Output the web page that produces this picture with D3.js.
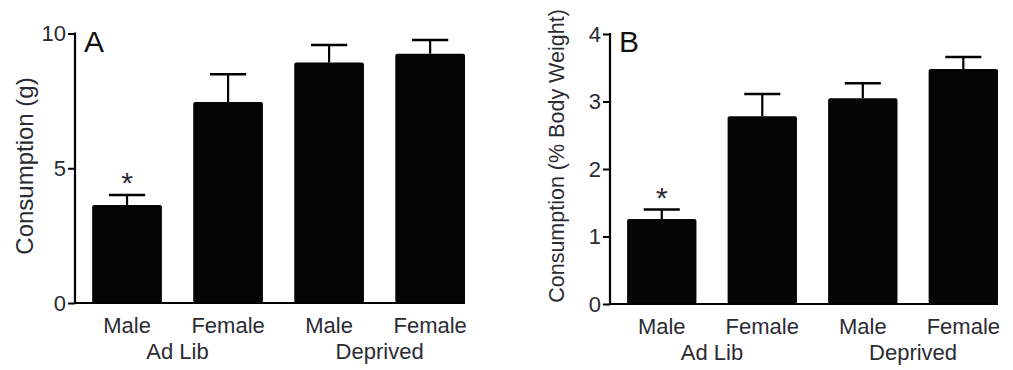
<!DOCTYPE html>
<html>
<head>
<meta charset="utf-8">
<script src="https://cdn.jsdelivr.net/npm/d3@7"></script>
<style>
    html, body { margin: 0; padding: 0; background: #fff; }
    svg { display: block; font-family: "Liberation Sans", Arial, sans-serif; }
</style>
</head>
<body>
<svg id="chart" width="1013" height="370"></svg>
<script>
// bar groups, left to right
const sexes = ["Male", "Female", "Male", "Female"];
const conditions = ["Ad Lib", "Deprived"];
const conditionOf = [0, 0, 1, 1];

// panel A: consumption in grams
const gramsMean = [3.64, 7.46, 8.92, 9.25];
const gramsSem = [0.37, 1.03, 0.65, 0.51];
const gramsTicks = [0, 5, 10];

// panel B: consumption as % body weight
const pctMean = [1.26, 2.78, 3.05, 3.48];
const pctSem = [0.14, 0.33, 0.22, 0.18];
const pctTicks = [0, 1, 2, 3, 4];

const significant = [true, false, false, false];

const textColor = "#2b2b33";
const svg = d3.select("#chart");

function drawPanel(opts) {
    const g = svg.append("g");
    const x = d3.scaleBand()
        .domain(d3.range(sexes.length))
        .range([opts.left, opts.right])
        .paddingInner(0.31)
        .paddingOuter(0.085)
        .align(1);
    const y = d3.scaleLinear()
        .domain([0, opts.max])
        .range([opts.bottom, opts.top]);

    // bars
    g.selectAll(".bar")
        .data(opts.mean)
        .join("rect")
        .attr("class", "bar")
        .attr("x", (d, i) => x(i))
        .attr("y", d => y(d))
        .attr("width", x.bandwidth())
        .attr("height", d => y(0) - y(d))
        .attr("rx", 2)
        .attr("fill", "#050505");

    // error bars (upper only)
    const capW = x.bandwidth() * 0.52;
    opts.mean.forEach((m, i) => {
        const cx = x(i) + x.bandwidth() / 2;
        g.append("line")
            .attr("x1", cx).attr("x2", cx)
            .attr("y1", y(m)).attr("y2", y(m + opts.sem[i]))
            .attr("stroke", "#000").attr("stroke-width", 2.2);
        g.append("line")
            .attr("x1", cx - capW / 2).attr("x2", cx + capW / 2)
            .attr("y1", y(m + opts.sem[i])).attr("y2", y(m + opts.sem[i]))
            .attr("stroke", "#000").attr("stroke-width", 2.5);
        if (significant[i]) {
            g.append("text")
                .attr("x", cx)
                .attr("y", y(m + opts.sem[i]) - 2)
                .attr("text-anchor", "middle")
                .attr("font-size", 30)
                .attr("fill", textColor)
                .text("*");
        }
    });

    // y axis
    g.append("g")
        .attr("transform", `translate(${opts.left},0)`)
        .call(d3.axisLeft(y).tickValues(opts.ticks).tickSize(7).tickPadding(2).tickFormat(d3.format("d")))
        .call(a => a.select(".domain").remove())
        .call(a => a.selectAll(".tick line").attr("stroke", "#000").attr("stroke-width", 2))
        .call(a => a.selectAll(".tick text").attr("fill", textColor).attr("font-size", 22)
            .attr("font-family", "Liberation Sans, Arial, sans-serif"));

    g.append("line")
        .attr("x1", opts.left).attr("x2", opts.left)
        .attr("y1", y(0) + 1).attr("y2", y(opts.max) - 1)
        .attr("stroke", "#000").attr("stroke-width", 2.2);
    g.append("line")
        .attr("x1", opts.left).attr("x2", opts.right)
        .attr("y1", y(0)).attr("y2", y(0))
        .attr("stroke", "#000").attr("stroke-width", 2.2);

    // category labels
    g.append("g")
        .attr("transform", `translate(0,${y(0)})`)
        .call(d3.axisBottom(x).tickSize(0).tickPadding(14).tickFormat(i => sexes[i]))
        .call(a => a.select(".domain").remove())
        .call(a => a.selectAll(".tick text").attr("fill", textColor).attr("font-size", 22)
            .attr("font-family", "Liberation Sans, Arial, sans-serif"));

    conditions.forEach((c, k) => {
        const idx = d3.range(sexes.length).filter(i => conditionOf[i] === k);
        const cx = d3.mean(idx, i => x(i) + x.bandwidth() / 2);
        g.append("text")
            .attr("x", cx)
            .attr("y", y(0) + 56)
            .attr("text-anchor", "middle")
            .attr("font-size", 22)
            .attr("fill", textColor)
            .text(c);
    });

    // axis title
    g.append("text")
        .attr("transform", `translate(${opts.titleX},${opts.titleY}) rotate(-90)`)
        .attr("text-anchor", "middle")
        .attr("font-size", opts.titleSize)
        .attr("fill", textColor)
        .text(opts.title);

    // panel letter
    g.append("text")
        .attr("x", opts.left + 9)
        .attr("y", opts.top + 18)
        .attr("font-size", 30)
        .attr("fill", "#111")
        .text(opts.letter);
}

drawPanel({
    letter: "A", title: "Consumption (g)", titleSize: 24,
    mean: gramsMean, sem: gramsSem, ticks: gramsTicks, max: 10,
    left: 75, right: 465, top: 33.5, bottom: 303,
    titleX: 33, titleY: 166
});

drawPanel({
    letter: "B", title: "Consumption (% Body Weight)", titleSize: 21.5,
    mean: pctMean, sem: pctSem, ticks: pctTicks, max: 4,
    left: 610, right: 998, top: 34, bottom: 304,
    titleX: 564, titleY: 156
});
</script>
</body>
</html>
